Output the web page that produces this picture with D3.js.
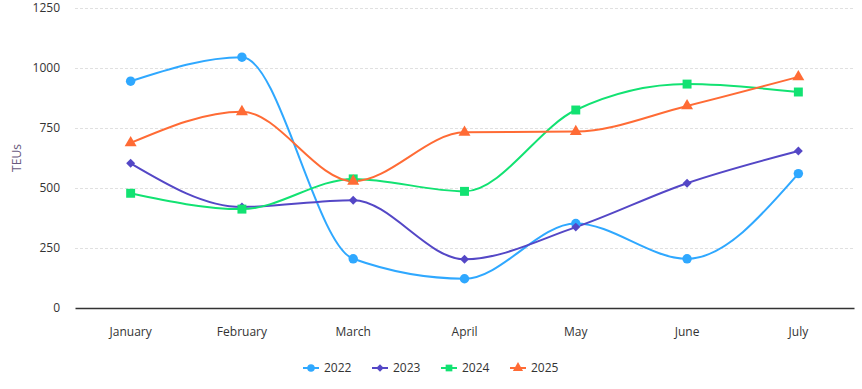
<!DOCTYPE html>
<html>
<head>
<meta charset="utf-8">
<script src="https://cdn.jsdelivr.net/npm/d3@7"></script>
<style>
  body { margin: 0; background: #fff; }
  svg text { font-family: "Segoe UI", "Open Sans", "Noto Sans", sans-serif; }
</style>
</head>
<body>
<svg class="main-graphic"></svg>
<script>
var months = ["January", "February", "March", "April", "May", "June", "July"];
var yTicks = [0, 250, 500, 750, 1000, 1250];
var seriesNames = ["2022", "2023", "2024", "2025"];
var colors = ["#2fa8ff", "#5447c6", "#12e272", "#ff6b35"];
var shapes = [d3.symbolCircle, d3.symbolSquare, d3.symbolSquare, d3.symbolTriangle];
var rotations = [0, 45, 0, 0];

var v2022 = [945, 1045, 205, 122, 352, 205, 560];
var v2023 = [603, 421, 449, 203, 337, 520, 654];
var v2024 = [478, 412, 538, 486, 825, 933, 900];
var v2025 = [688, 818, 528, 732, 735, 842, 963];
var allValues = [v2022, v2023, v2024, v2025];

var width = 862, height = 389;
var margin = {top: 8, left: 75};
var innerW = 779,
    innerH = 308 - margin.top;

var svg = d3.select(".main-graphic")
    .attr("width", width)
    .attr("height", height);

var g = svg.append("g")
    .attr("transform", "translate(" + margin.left + "," + margin.top + ")");

var x = d3.scaleBand().domain(months).range([0, innerW]);
var y = d3.scaleLinear().domain([0, 1250]).range([innerH, 0]);

// grid
g.selectAll(".grid")
    .data(yTicks.filter(function(d) { return d > 0; }))
  .enter().append("line")
    .attr("x1", 0).attr("x2", innerW)
    .attr("y1", function(d) { return y(d) + 0.5; })
    .attr("y2", function(d) { return y(d) + 0.5; })
    .attr("stroke", "#e0e0e0")
    .attr("stroke-dasharray", "3,2");

// y axis labels
var yAxis = d3.axisLeft(y).tickValues(yTicks).tickFormat(d3.format("d")).tickSize(0).tickPadding(15);
g.append("g").call(yAxis)
    .call(function(s) { s.select(".domain").remove(); })
    .selectAll("text")
    .attr("font-size", 12)
    .attr("fill", "#333");

// x axis
var xAxis = d3.axisBottom(x).tickSize(0).tickPadding(19);
var xg = g.append("g")
    .attr("transform", "translate(0," + innerH + ")")
    .call(xAxis);
xg.select(".domain").attr("stroke", "#333").attr("stroke-width", 1.5);
xg.selectAll("text").attr("font-size", 12).attr("fill", "#333");

// y title
svg.append("text")
    .attr("transform", "translate(21," + (margin.top + innerH / 2) + ") rotate(-90)")
    .attr("text-anchor", "middle")
    .attr("font-size", 12)
    .attr("fill", "#6a5a7e")
    .text("TEUs");

var line = d3.line()
    .x(function(d, i) { return x(months[i]) + x.bandwidth() / 2; })
    .y(function(d) { return y(d); })
    .curve(d3.curveMonotoneX);

allValues.forEach(function(vals, k) {
  g.append("path")
      .datum(vals)
      .attr("fill", "none")
      .attr("stroke", colors[k])
      .attr("stroke-width", 2)
      .attr("d", line);
});

allValues.forEach(function(vals, k) {
  var sz = [70, 40, 80, 62][k];
  g.selectAll(".m" + k)
      .data(vals)
    .enter().append("path")
      .attr("class", "m" + k)
      .attr("transform", function(d, i) {
        return "translate(" + (x(months[i]) + x.bandwidth() / 2) + "," + y(d) + ") rotate(" + rotations[k] + ")";
      })
      .attr("d", d3.symbol().type(shapes[k]).size(sz))
      .attr("fill", colors[k]);
});

// legend
var legend = svg.append("g").attr("transform", "translate(303,368)");
var legX = [0, 69, 138, 207];
seriesNames.forEach(function(name, k) {
  var lg = legend.append("g").attr("transform", "translate(" + legX[k] + ",0)");
  lg.append("line")
      .attr("x1", 0).attr("x2", 16)
      .attr("stroke", colors[k]).attr("stroke-width", 2);
  lg.append("path")
      .attr("transform", "translate(8,0) rotate(" + rotations[k] + ")")
      .attr("d", d3.symbol().type(shapes[k]).size(k === 1 ? 28 : 45))
      .attr("fill", colors[k]);
  lg.append("text")
      .attr("x", 21).attr("y", 0)
      .attr("dy", "0.35em")
      .attr("font-size", 12)
      .attr("fill", "#333")
      .text(name);
});
</script>
</body>
</html>
